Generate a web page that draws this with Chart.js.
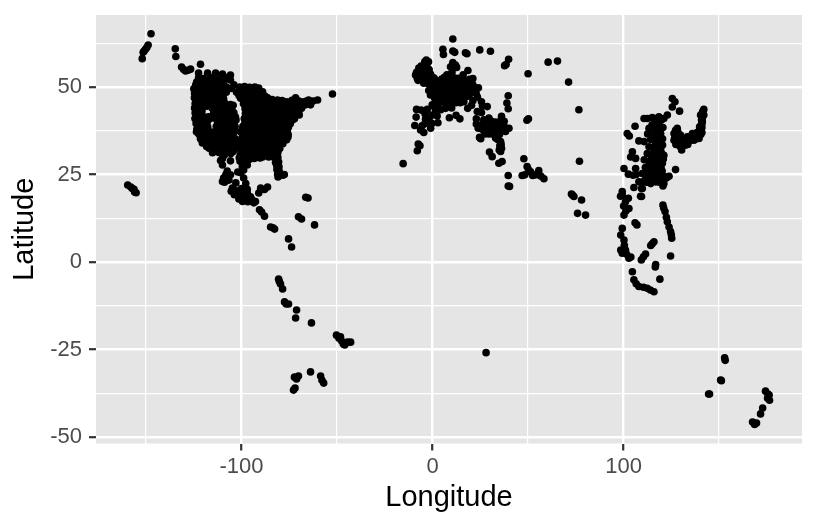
<!DOCTYPE html>
<html>
<head>
<meta charset="utf-8">
<script src="https://cdn.jsdelivr.net/npm/chart.js@4/dist/chart.umd.min.js"></script>
<style>
  html, body { margin: 0; padding: 0; background: #fff; }
  #wrap { width: 816px; height: 528px; }
</style>
</head>
<body>
<div id="wrap"><canvas id="chart" width="816" height="528"></canvas></div>
<script>
// [longitude, latitude], one list per cluster
const hawaii = [[-159.6,22],[-158,21.4],[-157.2,21],[-156.3,20.8],[-155.2,19.8],[-156,20]];
const alaska = [[-147.4,65.2],[-148.9,62],[-149.6,61.3],[-150.3,60.8],[-151,60.3],[-151.5,59.9],[-152,58.1],[-134.7,60.9],[-134.4,58.7],[-131.4,55.7],[-130.3,55],[-129.3,54.6],[-126.7,55.1],[-128,54.8],[-121.5,56.5]];
const canadaWest = [[-122.5,54],[-122.5,52.6],[-117.8,54],[-113.6,54],[-110,53.7],[-105.8,53.4],[-105.8,52],[-124,50.6],[-120,51],[-114.5,51.4],[-109.4,51.4],[-104,50.6],[-116.8,52.2],[-111.8,52.3],[-108,52.7],[-125,49.5],[-122.2,49.3],[-119.4,49.9],[-116.5,49.8],[-113.6,49.6],[-110.7,49.9],[-107.9,50],[-105.2,49.6],[-124.6,48.2],[-121.7,48.1],[-118.8,48.3],[-115.9,48.4],[-113,48.2],[-110.2,48.3],[-108,48.5],[-123.5,51.4],[-121,50.2],[-118,50.8],[-112,50.9],[-120,52.4],[-115.3,52.7],[-123.4,49],[-120.6,49],[-117.6,49],[-114.8,49],[-112,49],[-109.2,49]];
const usWest = [[-124.7,46.9],[-122.1,46.7],[-119.4,46.8],[-116.8,47],[-112.1,46.8],[-109.4,46.6],[-124.3,45.3],[-121.5,45.4],[-118.9,45.2],[-111.6,45.4],[-108.9,45.5],[-113.6,46],[-116.6,45.1],[-124.6,44],[-122.3,43.8],[-115.3,43.9],[-112.6,44],[-109.8,44.1],[-107.1,44.3],[-104.4,44.8],[-124.3,42.6],[-121.7,42.4],[-114.6,42.6],[-112.1,42.4],[-109.3,42.7],[-106.6,42.9],[-104,42.6],[-124.4,41],[-122.1,41.1],[-119.3,40.7],[-116.6,40.9],[-113.8,41.1],[-111,40.9],[-108.3,41.2],[-105.6,41],[-103.2,41.4],[-123.8,39.6],[-121,39.3],[-118.6,39.2],[-112.1,39.4],[-109.4,39.6],[-106.7,39.4],[-104.2,39.6],[-123.4,38],[-120.8,37.9],[-118,37.8],[-113.2,37.9],[-110.6,38],[-107.9,37.8],[-105.2,38],[-122.6,36.7],[-120,36.5],[-117.3,36.4],[-114.7,36.3],[-112,36.4],[-109.3,36.5],[-106.6,36.6],[-104.2,36.8],[-121.5,35.2],[-118.9,35],[-116.2,35],[-113.5,35.1],[-110.8,35],[-108.1,35.1],[-105.5,35.2],[-120.5,34],[-117.8,33.7],[-115.2,33.6],[-112.5,33.5],[-109.9,33.7],[-107.2,33.6],[-104.5,33.8],[-102.2,33.6],[-117,32.5],[-114.4,32.3],[-111.7,32.2],[-109,32.4],[-106.4,32],[-103.7,32.3],[-115.2,31.2],[-111.9,31.3],[-108.5,31.3],[-105.6,31]];
const usWestFill = [[-123.4,47.6],[-120.7,47.5],[-118,47.6],[-115.3,47.7],[-112.6,47.6],[-109.8,47.4],[-123,46.1],[-120.3,46],[-117.6,46],[-111.9,46.2],[-110,46],[-123.3,44.6],[-120.6,44.7],[-118,44.5],[-113.9,44.7],[-111.2,44.6],[-108.5,44.8],[-105.8,45],[-123.4,43.1],[-120.7,43.2],[-113.2,43.1],[-110.5,43.3],[-107.8,43.4],[-105.1,43.6],[-123,41.7],[-120.2,41.6],[-117.4,41.5],[-115.2,41.8],[-112.5,41.7],[-109.8,41.9],[-107.1,41.6],[-104.4,41.8],[-123.5,40.2],[-120.8,40.1],[-118,40],[-112.6,40.2],[-110,40.3],[-107.3,40.2],[-104.6,40.4],[-102.9,40.6],[-122.4,38.8],[-119.8,38.6],[-117.7,38.6],[-113.2,38.8],[-110.6,38.7],[-108,38.8],[-105.4,38.7],[-103.4,38.8],[-123.6,37.2],[-121.6,37.3],[-119,37.1],[-116.5,37.2],[-114,37.1],[-111.3,37.2],[-108.6,37.1],[-105.9,37.3],[-103.4,37.4],[-121.6,35.9],[-119.2,35.8],[-116.7,35.7],[-113.9,35.8],[-111.2,35.7],[-108.5,35.8],[-105.8,35.9],[-103.3,35.2],[-120.6,34.6],[-118.3,34.4],[-115.6,34.3],[-113,34.3],[-110.3,34.4],[-107.6,34.3],[-104.9,34.5],[-102.4,34.7],[-118.3,33],[-115.8,33],[-113,32.9],[-110.4,33],[-107.7,32.9],[-105,33],[-102.3,32.8],[-113,31.7],[-110.3,31.8],[-107.2,31.7],[-104.4,31.6]];
const usEast = [[-101,50],[-98.4,50.1],[-95.8,49.9],[-93,50],[-91,49.7],[-102.6,48.5],[-100,48.3],[-97.2,48.4],[-94.5,48.5],[-91.8,48.3],[-89,48.6],[-100.5,46.8],[-97.8,46.9],[-95.1,46.7],[-92.4,46.9],[-89.7,46.8],[-86.4,46.9],[-84,46.4],[-81.2,46.3],[-78.8,46.1],[-75.4,45.7],[-71.7,46.9],[-73.6,46.2],[-68,45.7],[-70,46],[-64.9,46.3],[-66.4,45.9],[-60.2,46.3],[-62.5,46],[-63.9,44.9],[-52.4,48],[-99,45.2],[-96.2,45.4],[-93.5,45.1],[-90.8,45.3],[-88.1,45.2],[-85.4,45.4],[-82.7,45.2],[-80,45.3],[-77.3,45.1],[-74.6,45.2],[-71.9,45.1],[-69.2,44.8],[-66.6,44.9],[-98.2,43.8],[-95.5,43.9],[-92.8,43.7],[-90.1,43.9],[-87.4,43.6],[-84.7,43.8],[-82,43.7],[-79.4,43.8],[-76.6,43.6],[-73.9,43.7],[-71.2,43.6],[-68.6,43.9],[-98,42.4],[-95.2,42.3],[-92.6,42.5],[-89.9,42.3],[-87.2,42.4],[-84.6,42.3],[-81.8,42.5],[-79.1,42.3],[-76.5,42.4],[-73.7,42.3],[-71.1,42.4],[-69.8,42],[-98.6,41],[-96,40.9],[-93.3,41.1],[-90.6,40.8],[-87.9,41],[-85.2,40.9],[-82.5,41.1],[-79.8,40.8],[-77.1,40.9],[-74.4,40.8],[-72.3,40.9],[-98.3,39.6],[-95.6,39.4],[-92.9,39.6],[-90.2,39.4],[-87.5,39.5],[-84.8,39.3],[-82.1,39.5],[-79.4,39.3],[-76.8,39.4],[-74.5,39.5],[-99.8,37.8],[-97.1,38],[-94.4,37.8],[-91.7,38],[-89,37.8],[-86.3,38],[-83.6,37.8],[-80.9,38],[-78.2,37.8],[-75.9,37.9],[-98.8,36.4],[-96.1,36.6],[-93.4,36.4],[-90.7,36.5],[-88,36.4],[-85.3,36.5],[-82.6,36.4],[-79.9,36.6],[-77.2,36.5],[-75.6,36.4],[-100.2,35],[-97.5,35.2],[-94.8,35],[-92.1,35.1],[-89.4,34.9],[-86.7,35.1],[-84,34.9],[-81.3,35.1],[-78.6,34.9],[-76.4,34.9],[-99.6,33.6],[-96.9,33.7],[-94.2,33.5],[-91.5,33.7],[-88.8,33.5],[-86.1,33.6],[-83.4,33.5],[-80.7,33.7],[-78.4,33.8],[-100.4,32.1],[-97.7,32.2],[-95,32],[-92.3,32.2],[-89.6,32],[-86.9,32.1],[-84.2,32],[-81.5,32.1],[-80,32.4],[-100.6,30.7],[-97.9,30.6],[-95.2,30.8],[-92.5,30.5],[-89.8,30.7],[-87.1,30.5],[-84.4,30.6],[-81.7,30.5],[-98.6,29.4],[-96,29.3],[-93.4,29.6],[-90.3,29.7],[-81.8,29.2],[-80.6,28.6],[-81.6,27.6],[-80.4,27.2],[-81.5,26.4],[-80.3,26],[-81.1,25.1],[-80.9,24.3],[-77.6,25],[-78.4,24.8]];
const usEastFill = [[-101.3,47.6],[-98.6,47.6],[-95.9,47.7],[-93.2,47.5],[-90.5,47.6],[-87.8,47.4],[-98.5,46],[-95.8,46.1],[-93.1,46],[-90.4,46.1],[-87.7,46],[-85,45.9],[-82.3,46],[-79.6,45.9],[-76.9,45.8],[-97.4,44.5],[-94.7,44.6],[-92,44.5],[-89.3,44.6],[-86.6,44.5],[-83.9,44.6],[-81.2,44.4],[-78.5,44.5],[-75.8,44.6],[-73.1,44.5],[-70.4,44.4],[-96.8,43.1],[-94.1,43.1],[-91.4,43],[-88.7,43.1],[-86,43],[-83.3,43.1],[-80.6,43],[-77.9,43.1],[-75.2,43],[-72.5,43.1],[-70,43],[-96.6,41.7],[-93.9,41.7],[-91.2,41.6],[-88.5,41.7],[-85.8,41.6],[-83.1,41.7],[-80.4,41.6],[-77.7,41.7],[-75,41.6],[-72.3,41.7],[-97.4,40.3],[-94.7,40.2],[-92,40.3],[-89.3,40.2],[-86.6,40.3],[-83.9,40.2],[-81.2,40.3],[-78.5,40.2],[-75.8,40.1],[-73.4,40.6],[-99.3,38.8],[-96.6,38.7],[-93.9,38.8],[-91.2,38.7],[-88.5,38.8],[-85.8,38.7],[-83.1,38.8],[-80.4,38.7],[-77.7,38.8],[-75.4,38.7],[-100.2,37.1],[-97.5,37.2],[-94.8,37.1],[-92.1,37.2],[-89.4,37.1],[-86.7,37.2],[-84,37.1],[-81.3,37.2],[-78.6,37.1],[-76.1,37.1],[-99.5,35.7],[-96.8,35.8],[-94.1,35.7],[-91.4,35.8],[-88.7,35.7],[-86,35.8],[-83.3,35.7],[-80.6,35.8],[-77.9,35.7],[-75.7,35.7],[-100.6,34.3],[-97.9,34.3],[-95.2,34.2],[-92.5,34.3],[-89.8,34.2],[-87.1,34.3],[-84.4,34.2],[-81.7,34.3],[-79,34.3],[-99,32.9],[-96.3,32.9],[-93.6,32.8],[-90.9,32.9],[-88.2,32.8],[-85.5,32.9],[-82.8,32.8],[-80.3,33],[-99,31.4],[-96.4,31.5],[-93.7,31.4],[-91,31.4],[-88.3,31.3],[-85.6,31.4],[-83,31.3],[-81,31.3],[-101.2,29.8],[-97.2,29.9],[-94.7,29.8],[-91.8,29.9],[-89,30],[-85.8,30],[-83.4,30],[-81,29.9],[-82.2,28.4],[-80.9,25.8]];
const mexico = [[-110,29.6],[-105.8,28.9],[-110,27.7],[-109.4,24],[-110,23],[-105.8,24.9],[-107.5,26],[-98.9,26.3],[-97,27.7],[-102,25.7],[-98.9,24],[-100.4,25.5],[-103,22.6],[-104.8,21.1],[-101.5,19.7],[-97,19.7],[-99.5,17.3],[-92.7,17.3],[-95.3,18.6],[-90,21.1],[-86.4,21.4],[-88,20.7],[-91,19.7],[-103.4,20.5],[-100,21],[-98.6,19.1],[-101.4,18],[-96.7,17.2],[-102.4,19.2],[-93.6,16.9],[-94.5,17.8],[-109,30.6],[-111,29],[-100.8,28.8],[-98,28.4],[-99.6,27.3],[-108.2,25],[-106.6,23.4],[-108.9,22.8],[-105.4,20.2],[-103.8,19.2],[-100.2,19.8],[-97.8,22.4],[-97,20.8],[-98,18],[-66.4,18.5],[-65.2,18.3]];
const centralSouth = [[-90.6,14.9],[-89.5,14.3],[-88,13.1],[-84.8,10],[-82.7,9.4],[-83.6,9.8],[-70.2,12.9],[-68.6,12.3],[-61.8,10.6],[-75.4,6.6],[-73.8,4.3],[-80.6,-4.9],[-79.6,-6.3],[-78.5,-7.7],[-80.2,-5.6],[-77.5,-11.4],[-75.4,-12],[-76.6,-12],[-71.2,-13.7],[-71.7,-16],[-63.4,-17.4],[-50.3,-20.9],[-48.2,-21.4],[-47.6,-22.6],[-46,-23.7],[-42.9,-22.9],[-49,-21.8],[-46.7,-23.4],[-44.5,-22.9],[-72.3,-32.9],[-70.2,-32.6],[-71.2,-33.4],[-72.8,-36.6],[-72,-36],[-63.9,-31.4],[-58.6,-32.6],[-57,-34.6],[-57.9,-33.8]];
const ukIreland = [[-3.3,57.7],[-4.1,57.2],[-2.1,57.2],[-7.2,55.4],[-8.9,53.4],[-8,52.5],[-4.6,54.9],[-2,53.9],[-.2,52.5],[-4.6,51.1],[1.5,51.5],[-6.2,53.4],[-5.9,54.6],[-3,55.9],[-2.7,53.4],[-1.5,51.3],[-3.4,52],[-5.8,52],[-2.2,50.9],[.5,50.7],[-6,56],[-4.4,56.2],[-1.8,55],[-3.2,54.4],[-6.6,54.2],[-8.4,54.2],[-1,53.6],[-4.6,53],[-6.9,52.9],[-7.6,51.9],[-2,52.4],[.6,52.6],[-.8,51.5],[-3,51.2],[1.2,52.2]];
const europe = [[10.6,63.7],[5.4,60.8],[5.7,59.3],[10.6,60.3],[11.6,59.9],[17.2,59.8],[18,59.5],[24.7,60.6],[30.3,60.2],[39.8,57.9],[37.7,56.1],[38.5,56.4],[60.5,57.1],[65.4,57.4],[50,53.8],[71.2,51.4],[76.6,43.5],[76.9,28.8],[-15.4,28.1],[39.6,47.5],[38.9,45.4],[39.6,43.8],[36.1,41.6],[49.4,40.5],[50.2,40.9],[18.5,54.7],[21.1,52.4],[9.4,55.8],[12,56.3],[10.6,57],[12.6,55.6],[10.2,54.3],[7.5,53.5],[4.8,52.3],[9.8,53.6],[13.4,52.5],[16.8,51.9],[19.4,52.2],[6.8,51.3],[2.8,50.6],[4.4,50.9],[8.6,50],[11,50.5],[14.2,50.1],[17,49.8],[19.8,50],[22,49.9],[24,49.8],[6,49.6],[3.2,49],[10.4,49.2],[12.6,49],[1.5,48.2],[-1.1,47.7],[5.9,48.2],[9.4,48.7],[12.9,48.2],[16.4,48.1],[18.1,48.2],[7.7,47.8],[3.4,47],[1,46.9],[4.2,46.3],[6.6,46.3],[8.6,46.8],[11.1,46.6],[14.4,46.6],[19.1,47.4],[21.1,46.1],[23.5,47.1],[25.6,45.8],[28.6,44.4],[26.1,44.6],[23.4,43],[25.6,42.7],[22.9,40.9],[20.4,44.8],[18.4,43.9],[16.4,45.8],[14.5,45.5],[12.2,45.5],[9.3,45.5],[7.2,44.8],[4.8,45.7],[6.2,52.8],[8.4,52.3],[11.2,52.6],[14.8,51.2],[12.4,51.4],[9.8,51.2],[5.2,51.1],[7.6,50.6],[1.8,49.8],[4.6,49.5],[8.4,48.7],[14.8,48.8],[17.4,47.2],[13,47.4],[5,47.4],[2.6,48.4],[10.8,48],[15.6,50.4],[20.8,48.6],[22.8,48.2],[16,53.5],[18.8,51],[21,50.8],[16,49.2],[20,48.8],[0,49.6],[-2,49],[2,45.5],[.8,44.4],[3,44.2],[1.5,46]];
const southWest = [[-8.4,43.6],[-6,43.4],[-2.8,43.6],[-.2,44.9],[1.5,43.5],[6.8,43.9],[4.3,43.5],[-.2,42],[2.4,41.7],[-8.6,41.4],[-3.7,40.8],[-1,38.2],[2.8,39.8],[-9.3,39],[-6.3,37.7],[-4.6,37],[-7.5,33.7],[-8,31.8],[-3.9,42.3],[-1.8,41],[-.4,39.6],[-4.1,39.5],[-5.5,38.9],[8.8,41.2],[10,44],[12.3,41.9],[14.3,40.9],[-6.6,33.2]];
const eastMed = [[29.5,41.1],[26.8,40.6],[23.9,38.2],[27.7,38.7],[32.1,38.7],[35.6,38.7],[40,38.2],[38.2,37.3],[24.6,35.6],[33,35.4],[35.6,34.4],[36.1,32.5],[35.6,31.6],[29.8,31.4],[31.2,30.1],[34.7,28.2],[36.4,28.7],[28.6,40],[30.6,40.3],[32.9,40],[25.9,39.3],[29.7,39.2],[31.4,37.5],[27.2,37.1],[29.2,37.6],[33.4,37.2],[35.4,37],[36.9,38],[35,36.4],[33.3,36.6],[30.6,36.9],[25.2,35.2],[22.9,39.4],[34.1,35],[35.2,33.2],[35.9,33.6],[34.9,32],[39.6,24.7],[39.6,21.7],[40.3,21.6],[37.5,40.2],[35.9,40.7],[27.4,40],[28.4,38.2],[30.6,38.4],[33.6,38.6],[34.4,39.4],[31.6,39.3],[26,37.9],[27.6,36.6],[29.6,36.6],[32,36.4],[34.2,37.8],[37.6,38.6]];
const gulfIndia = [[47.8,29.5],[49.5,27.3],[50.2,26.4],[51.3,25.8],[46.9,24.7],[55.6,26.1],[55.6,24.9],[58.3,23.8],[53.9,24.9],[56.8,24.5],[48.3,24.9],[52.4,24.7],[72.7,19.4],[74,18.7],[78,17.7],[75.9,13.9],[80.1,13.4],[73.3,19.1]];
const chinaKorea = [[125.5,46.7],[126.9,45.8],[125.5,44.3],[129.3,43.1],[122.9,42],[121.1,41],[118.5,41.5],[115,41.3],[110.7,41],[106,38.8],[101.9,36.7],[103,36],[118.5,39.6],[113.3,38.2],[116.8,37.7],[119.4,36.7],[108,34.6],[110.7,34.4],[113.3,32.9],[116.8,33.4],[119.4,32.4],[121.1,30.5],[116.8,30.5],[112.4,31],[104.6,31.5],[103.7,30],[106.3,29.6],[113.3,28.6],[120.3,28.2],[116.8,27.2],[127.2,26.4],[106.3,26.7],[100.2,26.7],[102.5,25.1],[109.8,25.3],[113.3,23.4],[119.4,24.4],[123.8,24.5],[121.1,22.4],[116.8,22.9],[108,22.9],[105.4,21.3],[109.8,21],[112.4,41],[116.6,40.1],[118.2,38.8],[120.6,38.4],[114.9,39.2],[112.6,36.6],[115.6,36],[117.9,35.4],[120.4,35.2],[114.2,35],[116,31.8],[118.6,31],[120,30.2],[114.6,30],[117.2,29],[114.8,27.8],[118.8,26.4],[116,25.4],[113,25.8],[111.4,27],[110.8,29.2],[118.4,29.6],[120.2,26],[114.2,24.4],[117.8,24],[121.2,24.4],[114.2,22.4],[112,22.8],[110.4,23],[106.6,25],[105,24.8],[116.6,41],[119.8,40.6],[117.6,38.8],[115.8,37.8],[118,37],[116.4,34.6],[118.2,34],[120.4,33.4],[115.8,32.8],[117.9,32],[119.8,31.2],[115.4,31],[117.6,30.2],[116.2,28.6],[118.8,28],[120.8,29.4],[115.4,26.8],[117.9,27],[119.6,27],[117.6,25.4],[119.2,25.4],[115.8,24],[113,24.4],[120.4,23.2],[118.6,22.8],[122.4,24],[114.8,23.2],[111.6,24.4]];
const japan = [[142,43.6],[141.4,43],[140.3,42],[142,42],[141.2,40.1],[140.6,39],[140.3,37.7],[141,38.4],[139.5,36.2],[136,36.7],[133.4,35.8],[129.9,36.2],[128.1,38.2],[126.4,36.7],[126.4,34.8],[128.1,33.9],[130.4,32],[132.5,33.4],[136.8,34.8],[139.5,35.3],[138.2,35.6],[127.2,37.6],[128.8,35.2],[130.8,33.8],[131.6,34.6],[134,34.4],[135.4,34.9],[141,37],[127.6,36],[129.4,34.6],[141.2,41],[140.8,40.6],[141,39.4],[139.8,38.6],[138.4,37],[137.2,36],[135,35.6],[132.2,35.2],[130.4,35],[128.4,37.2],[127.4,33.6],[129.6,33],[133.6,33.6],[137.4,35],[140.4,36.4],[126.8,35.6]];
const seAsia = [[99.3,20.1],[98.4,18.8],[102.5,18.2],[108.9,18.8],[99.3,19.1],[101,17.2],[102.8,15.3],[100.2,13.4],[101.2,14.6],[100,16],[106,11.2],[107,10.6],[99.3,9.6],[98.5,7.7],[100.2,6.3],[98.5,3.4],[101,3.4],[102.8,1.1],[99.3,2.5],[100.4,4.8],[101.6,2.2],[103.8,1.4],[109.4,21],[109.4,18.7],[120.6,21.7],[120.6,16.3],[121.7,14.4],[121,15.4],[122.9,11.5],[122.4,12.8],[124.6,8.7],[123.8,10],[125.2,6.8],[125,7.8],[115.9,5.8],[114.2,4.7],[115,5.2],[111.5,2.3],[109.3,.6],[110.4,1.5],[116.8,-.7],[116.6,-1.4],[124.6,1.7],[104.6,-2.8],[105.4,-5.1],[106.6,-6.2],[108,-7],[110.4,-7.2],[112.4,-7.5],[114,-8],[115.9,-8.5],[119,-4.9]];
const oceania = [[28,-25.9],[152.9,-27.4],[153.2,-28.1],[150.8,-33.7],[151.2,-33.9],[144.5,-37.7],[145,-37.7],[167.5,-45.7],[168.6,-46.4],[169.6,-46],[171.7,-43.4],[172.8,-41.7],[175.4,-38.9],[176.4,-39.5],[174.3,-36.9],[175.6,-37.7],[176.2,-38]];

const xTicks = [-150, -100, -50, 0, 50, 100, 150];
const xLabels = ["-100", "0", "100"];
const yTicks = [-50, -37.5, -25, -12.5, 0, 12.5, 25, 37.5, 50, 62.5];
const yLabels = ["-50", "-25", "0", "25", "50"];

const airports = [].concat(hawaii, alaska, canadaWest, usWest, usWestFill, usEast, usEastFill, mexico, centralSouth,
  ukIreland, europe, southWest, eastMed, gulfIndia, chinaKorea, japan, seAsia, oceania);

const panelBg = {
  id: "panelBg",
  beforeDraw(chart) {
    const a = chart.chartArea;
    chart.ctx.fillStyle = "#E5E5E5";
    chart.ctx.fillRect(a.left, a.top, a.right - a.left, a.bottom - a.top);
  },
};

const isLabelled = (labels, v) => labels.includes(String(v));

// keeps the panel where it is no matter how big the tick labels get
const pinPadding = (s) => {
  s.paddingTop = 0;
  s.paddingBottom = 0;
  s.paddingLeft = 0;
  s.paddingRight = 0;
};

new Chart(document.getElementById("chart"), {
  type: "scatter",
  data: {
    datasets: [{
      data: airports.map(([x, y]) => ({ x, y })),
      backgroundColor: "#000",
      borderWidth: 0,
      pointRadius: 3.8,
    }],
  },
  plugins: [panelBg],
  options: {
    responsive: false,
    animation: false,
    layout: { padding: { top: 15, right: 14, left: 0, bottom: 0 } },
    plugins: { legend: { display: false }, tooltip: { enabled: false } },
    scales: {
      x: {
        min: -176.2,
        max: 193.4,
        afterBuildTicks: (s) => { s.ticks = xTicks.map((value) => ({ value })); },
        afterFit: (s) => { s.height = 84.5; pinPadding(s); },
        border: { display: false },
        grid: {
          color: "#fff",
          lineWidth: (c) => (isLabelled(xLabels, c.tick.value) ? 2.4 : 1.2),
          tickColor: (c) => (isLabelled(xLabels, c.tick.value) ? "#333" : "rgba(0,0,0,0)"),
          tickWidth: 2.2,
          tickLength: 7,
        },
        ticks: {
          autoSkip: false,
          maxRotation: 0,
          padding: 3,
          color: "#4D4D4D",
          font: { family: "'Liberation Sans'", size: 22 },
          callback: (v) => (isLabelled(xLabels, v) ? String(v) : ""),
        },
        title: {
          display: true,
          text: "Longitude",
          color: "#000",
          padding: { top: 0, bottom: 13 },
          font: { family: "'Liberation Sans'", size: 29 },
        },
      },
      y: {
        min: -51.86,
        max: 70.57,
        afterBuildTicks: (s) => { s.ticks = yTicks.map((value) => ({ value })); },
        afterFit: (s) => { s.width = 96; pinPadding(s); },
        border: { display: false },
        grid: {
          color: "#fff",
          lineWidth: (c) => (isLabelled(yLabels, c.tick.value) ? 2.4 : 1.2),
          tickColor: (c) => (isLabelled(yLabels, c.tick.value) ? "#333" : "rgba(0,0,0,0)"),
          tickWidth: 2.2,
          tickLength: 7,
        },
        ticks: {
          autoSkip: false,
          padding: 7,
          color: "#4D4D4D",
          font: { family: "'Liberation Sans'", size: 22 },
          callback: (v) => (isLabelled(yLabels, v) ? String(v) : ""),
        },
        title: {
          display: true,
          text: "Latitude",
          color: "#000",
          padding: { top: 8, bottom: 0 },
          font: { family: "'Liberation Sans'", size: 29 },
        },
      },
    },
  },
});
</script>
</body>
</html>
